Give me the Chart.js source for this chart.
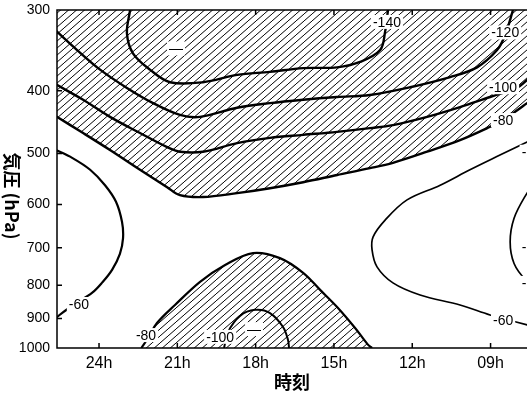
<!DOCTYPE html>
<html lang="ja">
<head>
<meta charset="utf-8">
<title>気圧・時刻断面</title>
<script src="https://cdn.jsdelivr.net/npm/chart.js@4.4.1/dist/chart.umd.min.js"></script>
<style>
html, body { margin: 0; padding: 0; background: #fff; overflow: hidden; }
canvas { display: block; }
</style>
</head>
<body>
<canvas id="secao" width="560" height="393"></canvas>
<script>
// axis ticks
const horas = [24, 21, 18, 15, 12, 9];
const niveis = [300, 400, 500, 600, 700, 800, 900, 1000];

// contour lines, [hour, hPa]
const iso140 = [[22.81,300],[22.93,326],[22.70,350],[22.05,371],[21.28,388],[20.02,388],[18.71,378],[17.45,374],[16.18,369],[14.88,368],[14.00,361],[13.23,346],[13.04,324],[12.93,300]];
const iso120 = [[25.65,323],[24.84,346],[23.96,371],[22.93,396],[21.93,418],[20.90,436],[20.13,439],[18.71,425],[17.45,418],[16.18,413],[14.88,409],[13.62,406],[12.08,395],[10.55,381],[9.52,368],[8.75,346],[8.44,328],[8.14,300]];
const iso100 = [[25.65,391],[24.61,413],[23.58,439],[22.43,465],[21.39,489],[20.90,497],[20.02,497],[18.71,482],[17.45,473],[16.18,468],[14.88,463],[13.62,457],[12.74,452],[11.43,439],[10.17,424],[9.02,409],[8.44,402],[7.95,395],[7.60,385],[7.30,378]];
const iso80 = [[25.65,438],[24.61,465],[23.58,494],[22.43,530],[21.39,564],[20.90,580],[20.02,584],[18.71,576],[17.45,566],[16.18,554],[14.88,540],[13.62,527],[12.74,517],[11.43,497],[10.17,477],[9.13,457],[8.52,444],[7.95,428],[7.60,418],[7.30,410]];
const iso60esq = [[25.65,494],[25.03,508],[24.34,530],[23.77,560],[23.35,594],[23.12,638],[23.08,676],[23.20,715],[23.50,757],[23.89,793],[24.27,822],[24.92,855],[25.42,883],[25.70,902]];
const iso60dir = [[7.30,473],[7.60,480],[8.64,503],[9.79,530],[10.93,560],[12.20,590],[13.04,634],[13.50,673],[13.54,705],[13.35,749],[12.74,793],[11.70,828],[10.17,858],[9.02,889],[8.44,902],[7.60,921],[7.30,928]];
const iso60borda = [[7.30,555],[7.65,580],[8.10,630],[8.25,685],[8.10,740],[7.65,785],[7.30,800]];
const iso80baixo = [[22.38,1000],[22.12,965],[21.78,915],[21.09,858],[20.13,790],[19.17,744],[18.10,713],[17.07,726],[16.18,765],[15.53,813],[14.88,864],[14.19,931],[13.69,989],[13.54,1000]];
const iso100baixo = [[19.21,1000],[19.06,945],[18.60,892],[18.02,873],[17.45,883],[16.95,928],[16.76,972],[16.72,1000]];

// contour labels
const rotulos = ['-140', '-120', '-100', '-80', '-60', '-80', '-100', '-60', '—', '—', '-', '-', '-'];
const rotuloHora = [12.97, 8.44, 8.52, 8.52, 24.77, 22.20, 19.36, 8.52, 21.05, 18.06, 7.72, 7.72, 7.72];
const rotuloPres = [313, 325, 395, 444, 855, 955, 961, 905, 344, 935, 497, 698, 793];

function hachura() {
    const c = document.createElement('canvas');
    c.width = 8; c.height = 7;
    const g = c.getContext('2d');
    g.strokeStyle = '#000';
    g.lineWidth = 1;
    g.beginPath();
    [-8, 0, 8].forEach(o => { g.moveTo(o, 7); g.lineTo(o + 8, 0); });
    g.stroke();
    return g.createPattern(c, 'repeat');
}
const padrao = hachura();

function serie(pts, largura, extra) {
    return Object.assign({
        data: pts.map(p => ({ x: p[0], y: p[1] })),
        showLine: true,
        borderColor: '#000',
        borderWidth: largura,
        pointRadius: 0,
        tension: 0.35,
        fill: false,
        clip: 0
    }, extra || {});
}

const moldura = {
    id: 'moldura',
    afterDatasetsDraw(chart) {
        const { ctx, scales: { x, y } } = chart;
        ctx.save();
        ctx.font = '14px "Liberation Sans", Arial, sans-serif';
        ctx.textAlign = 'center';
        ctx.textBaseline = 'middle';
        rotulos.forEach((t, i) => {
            const px = x.getPixelForValue(rotuloHora[i]);
            const py = y.getPixelForValue(rotuloPres[i]);
            const w = ctx.measureText(t).width + 4;
            ctx.fillStyle = '#fff';
            ctx.fillRect(px - w / 2, py - 7, w, 14);
            ctx.fillStyle = '#000';
            ctx.fillText(t, px, py + 1);
        });
        ctx.restore();
    },
    afterDraw(chart) {
        const { ctx, chartArea: a, scales: { x, y } } = chart;
        ctx.save();
        ctx.strokeStyle = '#000';
        ctx.lineWidth = 1.5;
        ctx.beginPath();
        ctx.moveTo(a.right + 2, a.top);
        ctx.lineTo(a.left, a.top);
        ctx.lineTo(a.left, a.bottom);
        ctx.lineTo(a.right + 2, a.bottom);
        // inward ticks
        horas.forEach(h => {
            const px = x.getPixelForValue(h);
            ctx.moveTo(px, a.bottom); ctx.lineTo(px, a.bottom - 5);
            ctx.moveTo(px, a.top); ctx.lineTo(px, a.top + 5);
        });
        niveis.forEach(p => {
            const py = y.getPixelForValue(p);
            ctx.moveTo(a.left, py); ctx.lineTo(a.left + 5, py);
        });
        ctx.stroke();

        ctx.fillStyle = '#000';
        ctx.font = 'bold 18px "Noto Sans CJK JP", sans-serif';
        ctx.textAlign = 'center';
        ctx.textBaseline = 'middle';
        ctx.fillText('時刻', 292, 382);
        ctx.translate(12, 196);
        ctx.rotate(Math.PI / 2);
        ctx.fillText('気圧 (hPa)', 0, 0);
        ctx.restore();
    }
};

new Chart(document.getElementById('secao').getContext('2d'), {
    type: 'scatter',
    data: {
        datasets: [
            serie(iso80, 2.4, { fill: { value: 300 }, backgroundColor: padrao }),
            serie(iso80baixo, 2.2, { fill: { value: 1000 }, backgroundColor: padrao }),
            serie(iso100, 2.4),
            serie(iso120, 2.4),
            serie(iso140, 2.4),
            serie(iso100baixo, 2),
            serie(iso60esq, 2.2),
            serie(iso60dir, 1.7),
            serie(iso60borda, 1.7)
        ]
    },
    options: {
        responsive: false,
        animation: false,
        layout: { padding: { top: 10, left: 0, right: 0, bottom: 0 } },
        plugins: { legend: { display: false }, tooltip: { enabled: false } },
        scales: {
            x: {
                type: 'linear',
                reverse: true,
                min: 6.34,
                max: 25.61,
                grid: { display: false, drawTicks: false },
                border: { display: false },
                afterBuildTicks: s => { s.ticks = horas.map(v => ({ value: v })); },
                afterFit: s => { s.height = 45; s.paddingLeft = 0; s.paddingRight = 0; },
                ticks: {
                    autoSkip: false,
                    maxRotation: 0,
                    padding: 6,
                    color: '#000',
                    font: { family: '"Liberation Sans", Arial, sans-serif', size: 16 },
                    callback: v => String(v).padStart(2, '0') + 'h'
                }
            },
            y: {
                type: 'logarithmic',
                reverse: true,
                min: 300,
                max: 1000,
                grid: { display: false, drawTicks: false },
                border: { display: false },
                afterBuildTicks: s => { s.ticks = niveis.map(v => ({ value: v })); },
                afterFit: s => { s.width = 57; s.paddingTop = 0; s.paddingBottom = 0; },
                ticks: {
                    autoSkip: false,
                    padding: 7,
                    color: '#000',
                    font: { family: '"Liberation Sans Narrow", "Liberation Sans", sans-serif', size: 14 },
                    callback: v => String(v)
                }
            }
        }
    },
    plugins: [moldura]
});
</script>
</body>
</html>
